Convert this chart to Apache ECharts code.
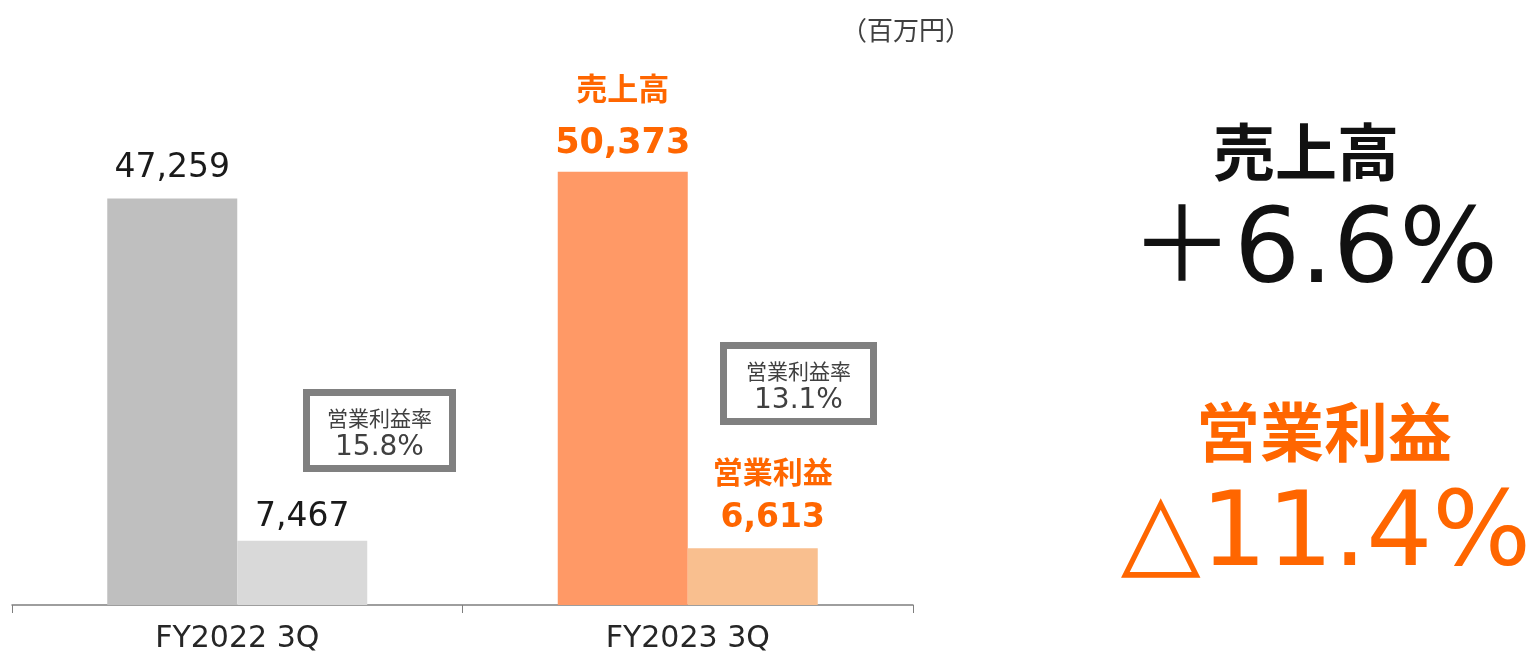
<!DOCTYPE html>
<html>
<head>
<meta charset="utf-8">
<script src="https://cdn.jsdelivr.net/npm/echarts@6/dist/echarts.min.js"></script>
<style>
html,body{margin:0;padding:0;background:#fff;}
#c{width:1532px;height:653px;}
</style>
</head>
<body>
<div id="c"></div>
<script>
const cats = ['FY2022 3Q', 'FY2023 3Q'];
const sales = [47259, 50373];
const opProfit = [7467, 6613];
const margins = ['15.8%', '13.1%'];
const salesGrowth = '＋6.6%';
const opGrowth = '△11.4%';

const JP = '"Noto Sans CJK JP", "Noto Sans", sans-serif';
const LAT = '"DejaVu Sans", "Noto Sans CJK JP", sans-serif';
const fmt = v => v.toLocaleString('en-US');

const chart = echarts.init(document.getElementById('c'));

// margin box, outer edges given
function box(x0, y0, x1, y1, m){
  const w = x1 - x0, h = y1 - y0, cx = w / 2;
  return {type:'group', x:x0, y:y0, children:[
    {type:'rect', shape:{x:3.5, y:3.5, width:w-7, height:h-7}, style:{fill:'#fff', stroke:'#808080', lineWidth:7}},
    {type:'text', x:cx, y:h*0.35, style:{text:'営業利益率', font:'21px '+JP, fill:'#404040', align:'center', verticalAlign:'middle'}},
    {type:'text', x:cx, y:h*0.71, style:{text:m, font:'28px '+LAT, fill:'#404040', align:'center', verticalAlign:'middle'}}
  ]};
}

chart.setOption({
  animation:false,
  grid:{left:12, right:619, top:89, bottom:48, outerBoundsMode:'none'},
  xAxis:{type:'category', data:cats,
    axisLine:{lineStyle:{color:'#7f7f7f', width:1.5}},
    axisTick:{show:true, length:8, lineStyle:{color:'#7f7f7f'}},
    axisLabel:{fontSize:30, color:'#262626', margin:19, fontFamily:LAT}},
  yAxis:{type:'value', min:0, max:60000, show:false, splitLine:{show:false}},
  series:[
    {type:'bar', barWidth:130, barGap:0,
      data:sales.map((v,i)=>({value:v, itemStyle:{color: i===0 ? '#bfbfbf' : '#ff9966'},
        label: i===0 ? {show:true, position:'top', distance:14, formatter:fmt(v), fontSize:33, color:'#1a1a1a', fontFamily:LAT}
          : {show:true, position:'top', distance:6, formatter:'{a|売上高}\n{b|'+fmt(v)+'}',
             rich:{a:{fontSize:31, fontWeight:'bold', color:'#ff6600', lineHeight:68, fontFamily:JP},
                   b:{fontSize:35, fontWeight:'bold', color:'#ff6600', lineHeight:44, fontFamily:LAT}}}}))},
    {type:'bar', barWidth:130,
      data:opProfit.map((v,i)=>({value:v, itemStyle:{color: i===0 ? '#d9d9d9' : '#f9bf8f'},
        label: i===0 ? {show:true, position:'top', distance:7, formatter:fmt(v), fontSize:33, color:'#1a1a1a', fontFamily:LAT}
          : {show:true, position:'top', distance:10, offset:[20,0], formatter:'{a|営業利益}\n{b|'+fmt(v)+'}',
             rich:{a:{fontSize:30, fontWeight:'bold', color:'#ff6600', lineHeight:54, fontFamily:JP},
                   b:{fontSize:33, fontWeight:'bold', color:'#ff6600', lineHeight:40, fontFamily:LAT}}}}))}
  ],
  graphic:[
    {type:'text', x:906, y:30, style:{text:'（百万円）', font:'26px '+JP, fill:'#404040', align:'center', verticalAlign:'middle'}},
    box(303, 389, 456, 472, margins[0]),
    box(720, 342, 877, 425, margins[1]),
    {type:'text', x:1306, y:152, style:{text:'売上高', font:'bold 62px '+JP, fill:'#111', align:'center', verticalAlign:'middle'}},
    {type:'text', x:1314, y:255, style:{text:salesGrowth, font:'104px '+LAT, fill:'#111', align:'center', verticalAlign:'middle'}},
    {type:'text', x:1324, y:432, style:{text:'営業利益', font:'bold 64px '+JP, fill:'#ff6600', align:'center', verticalAlign:'middle'}},
    {type:'text', x:1326, y:538, style:{text:opGrowth, font:'104px '+LAT, fill:'#ff6600', align:'center', verticalAlign:'middle'}}
  ]
});
</script>
</body>
</html>
